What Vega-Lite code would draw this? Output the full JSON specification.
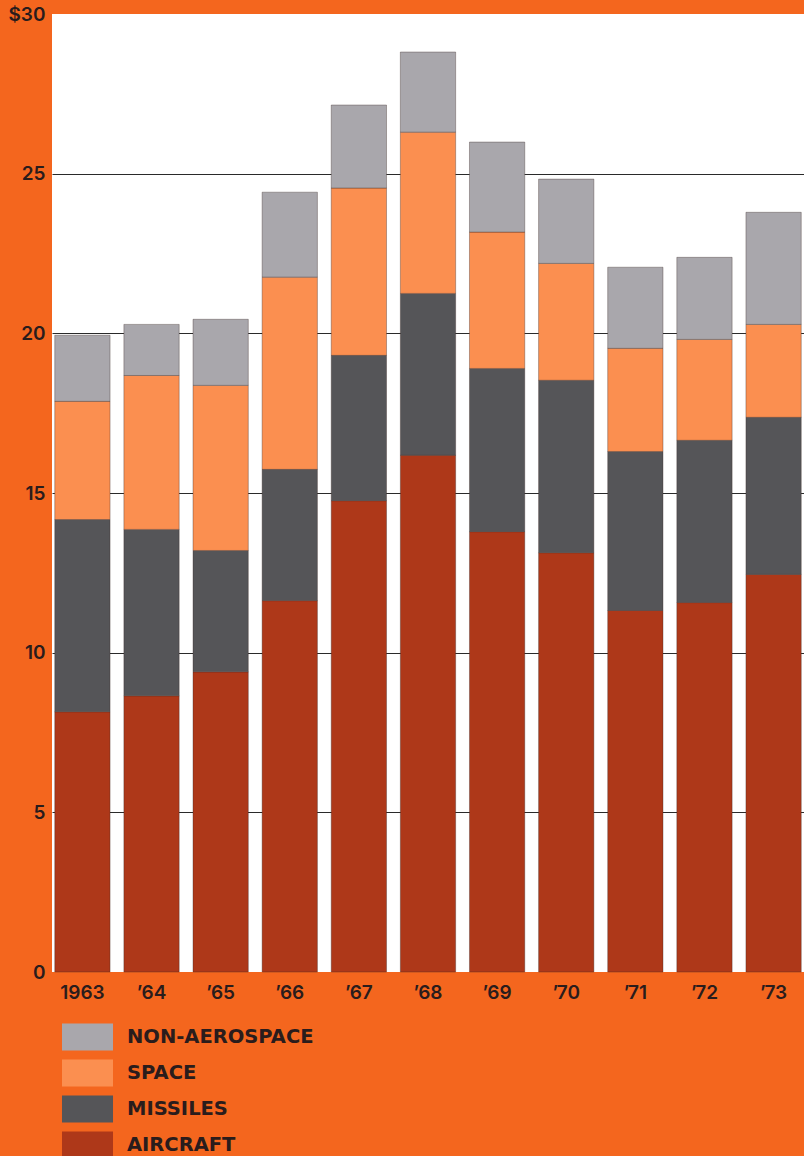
{
  "$schema": "https://vega.github.io/schema/vega-lite/v6.json",
  "width": 752,
  "height": 958,
  "autosize": {"type": "none"},
  "padding": {"left": 52, "top": 14, "right": 0, "bottom": 184},
  "background": "#F4661E",
  "config": {
    "view": {"fill": "white", "stroke": null},
    "font": "Inter"
  },
  "data": {
    "values": [
      {"year": "1963", "category": "AIRCRAFT", "value": 8.15},
      {"year": "1963", "category": "MISSILES", "value": 6.02},
      {"year": "1963", "category": "SPACE", "value": 3.70},
      {"year": "1963", "category": "NON-AEROSPACE", "value": 2.07},
      {"year": "’64", "category": "AIRCRAFT", "value": 8.65},
      {"year": "’64", "category": "MISSILES", "value": 5.21},
      {"year": "’64", "category": "SPACE", "value": 4.82},
      {"year": "’64", "category": "NON-AEROSPACE", "value": 1.60},
      {"year": "’65", "category": "AIRCRAFT", "value": 9.40},
      {"year": "’65", "category": "MISSILES", "value": 3.80},
      {"year": "’65", "category": "SPACE", "value": 5.17},
      {"year": "’65", "category": "NON-AEROSPACE", "value": 2.07},
      {"year": "’66", "category": "AIRCRAFT", "value": 11.63},
      {"year": "’66", "category": "MISSILES", "value": 4.11},
      {"year": "’66", "category": "SPACE", "value": 6.02},
      {"year": "’66", "category": "NON-AEROSPACE", "value": 2.66},
      {"year": "’67", "category": "AIRCRAFT", "value": 14.76},
      {"year": "’67", "category": "MISSILES", "value": 4.55},
      {"year": "’67", "category": "SPACE", "value": 5.24},
      {"year": "’67", "category": "NON-AEROSPACE", "value": 2.60},
      {"year": "’68", "category": "AIRCRAFT", "value": 16.18},
      {"year": "’68", "category": "MISSILES", "value": 5.07},
      {"year": "’68", "category": "SPACE", "value": 5.05},
      {"year": "’68", "category": "NON-AEROSPACE", "value": 2.51},
      {"year": "’69", "category": "AIRCRAFT", "value": 13.79},
      {"year": "’69", "category": "MISSILES", "value": 5.11},
      {"year": "’69", "category": "SPACE", "value": 4.27},
      {"year": "’69", "category": "NON-AEROSPACE", "value": 2.82},
      {"year": "’70", "category": "AIRCRAFT", "value": 13.13},
      {"year": "’70", "category": "MISSILES", "value": 5.40},
      {"year": "’70", "category": "SPACE", "value": 3.66},
      {"year": "’70", "category": "NON-AEROSPACE", "value": 2.64},
      {"year": "’71", "category": "AIRCRAFT", "value": 11.32},
      {"year": "’71", "category": "MISSILES", "value": 4.98},
      {"year": "’71", "category": "SPACE", "value": 3.23},
      {"year": "’71", "category": "NON-AEROSPACE", "value": 2.54},
      {"year": "’72", "category": "AIRCRAFT", "value": 11.57},
      {"year": "’72", "category": "MISSILES", "value": 5.08},
      {"year": "’72", "category": "SPACE", "value": 3.16},
      {"year": "’72", "category": "NON-AEROSPACE", "value": 2.57},
      {"year": "’73", "category": "AIRCRAFT", "value": 12.45},
      {"year": "’73", "category": "MISSILES", "value": 4.92},
      {"year": "’73", "category": "SPACE", "value": 2.91},
      {"year": "’73", "category": "NON-AEROSPACE", "value": 3.51}
    ]
  },
  "transform": [
    {"calculate": "indexof(['AIRCRAFT','MISSILES','SPACE','NON-AEROSPACE'], datum.category)", "as": "stackOrder"}
  ],
  "mark": {"type": "bar", "stroke": "#3a2a28", "strokeWidth": 0.6, "strokeOpacity": 0.6},
  "encoding": {
    "x": {
      "field": "year",
      "type": "nominal",
      "sort": null,
      "scale": {"paddingInner": 0.2, "paddingOuter": 0.04},
      "axis": {
        "title": null,
        "labelAngle": 0,
        "ticks": false,
        "domain": false,
        "labelPadding": 11,
        "labelFontSize": 19,
        "labelFontWeight": 600,
        "labelColor": "#2a1c1c"
      }
    },
    "y": {
      "field": "value",
      "type": "quantitative",
      "stack": "zero",
      "scale": {"domain": [0, 30], "nice": false},
      "axis": {
        "title": null,
        "values": [0, 5, 10, 15, 20, 25, 30],
        "labelExpr": "datum.value == 30 ? '$30' : datum.label",
        "ticks": false,
        "domain": false,
        "labelPadding": 7,
        "labelFontSize": 19,
        "labelFontWeight": 600,
        "labelColor": "#2a1c1c",
        "grid": true,
        "gridColor": {"condition": {"test": "datum.value == 0 || datum.value == 30", "value": "transparent"}, "value": "#2a2a2a"},
        "gridWidth": 1.2,
        "gridOpacity": 1
      }
    },
    "order": {"field": "stackOrder", "type": "quantitative", "sort": "ascending"},
    "color": {
      "field": "category",
      "type": "nominal",
      "scale": {
        "domain": ["NON-AEROSPACE", "SPACE", "MISSILES", "AIRCRAFT"],
        "range": ["#A9A7AC", "#FB8F50", "#555558", "#AE3819"]
      },
      "legend": {
        "title": null,
        "orient": "none",
        "legendX": 17.5,
        "legendY": 1005,
        "padding": 0,
        "symbolType": "M-1.417,-0.75H1.417V0.75H-1.417Z",
        "symbolSize": 1296,
        "symbolStrokeWidth": 0,
        "symbolOpacity": 1,
        "rowPadding": 4,
        "labelOffset": 21.5,
        "labelFontSize": 19.5,
        "labelFont": "DejaVu Sans",
        "labelFontWeight": "bold",
        "labelColor": "#2a1c1c",
        "labelLimit": 400
      }
    }
  }
}
